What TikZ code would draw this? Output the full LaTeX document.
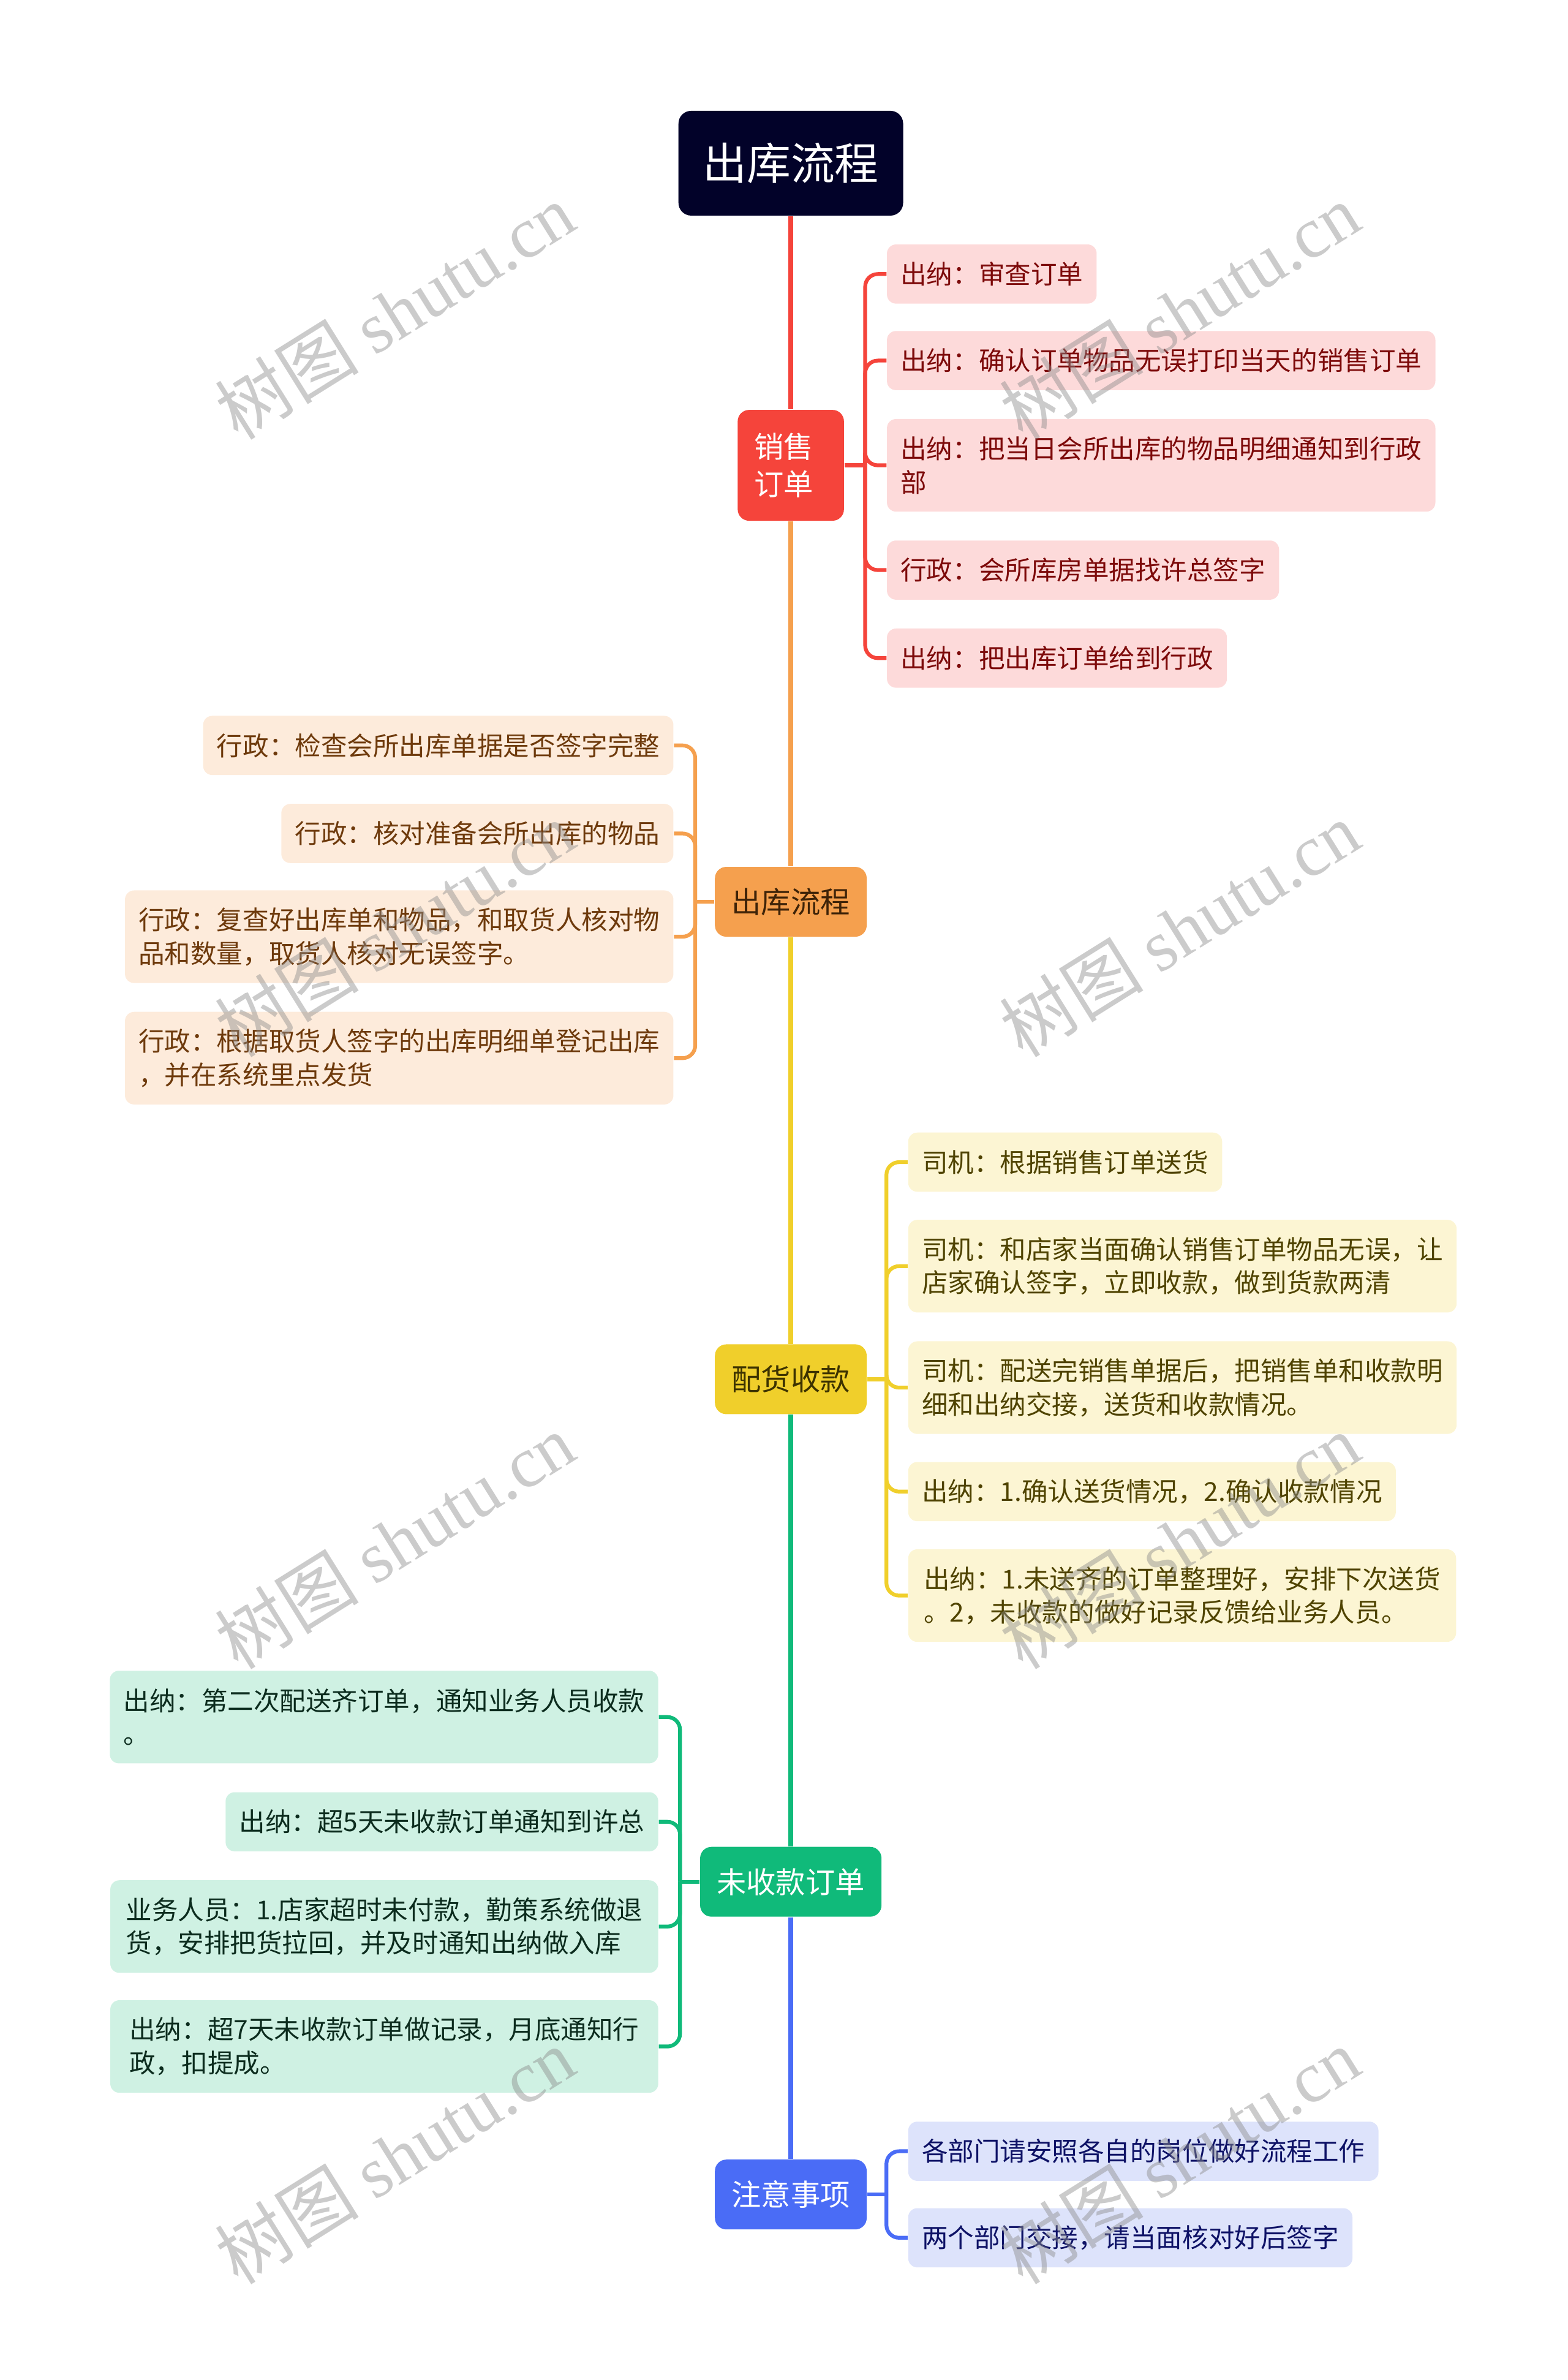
\documentclass[tikz,border=0pt]{standalone}
\usepackage{fontspec}
\setmainfont{Noto Sans CJK SC}
\newfontfamily\wmserif{Liberation Serif}
\definecolor{rootc}{HTML}{020229}
\definecolor{redc}{HTML}{F5443B}
\definecolor{orgc}{HTML}{F5A04E}
\definecolor{yelc}{HTML}{F0CF2B}
\definecolor{grnc}{HTML}{10BA7A}
\definecolor{bluc}{HTML}{4A6CF6}
\definecolor{redf}{HTML}{FDDADA}
\definecolor{orgf}{HTML}{FDEBDB}
\definecolor{yelf}{HTML}{FCF5D3}
\definecolor{grnf}{HTML}{CFF1E3}
\definecolor{bluf}{HTML}{DDE3FB}
\definecolor{redt}{HTML}{7D0A0A}
\definecolor{orgt}{HTML}{6E3A0C}
\definecolor{yelt}{HTML}{4F4300}
\definecolor{grnt}{HTML}{0C2C1E}
\definecolor{blut}{HTML}{0E1266}
\definecolor{orgl}{HTML}{3E2308}
\definecolor{yell}{HTML}{3D3300}
\tikzset{
  leaf/.style={rounded corners=3.6pt, inner xsep=5.4pt, inner ysep=2pt,
    minimum height=23.4pt, align=left, font=\fontsize{10.3pt}{13.2pt}\selectfont},
  tall/.style={minimum height=36.6pt},
  wide/.style={minimum width=216.6pt},
  lvl/.style={rounded corners=4.5pt, inner xsep=6.6pt, inner ysep=2pt,
    minimum height=27.6pt, font=\fontsize{11.7pt}{15pt}\selectfont},
  rootbox/.style={rounded corners=5pt, fill=rootc, text=white, minimum width=88.8pt,
    minimum height=41.4pt, font=\fontsize{17.4pt}{20pt}\selectfont},
  trunk/.style={line width=1.8pt},
  conn/.style={line width=1.5pt, rounded corners=5pt},
  wm/.style={rotate=32, text=black!45, text opacity=0.45, font=\fontsize{28.5pt}{32pt}\selectfont}
}
\begin{document}
\begin{tikzpicture}[x=0.6pt,y=-0.6pt]
\useasboundingbox (0,0) rectangle (1033,1567.7);
% root
\node[rootbox] (root) at (521,107.5) {出库流程};
% level 1
\node[lvl, fill=redc, text=white, text width=28.8pt, minimum height=43.8pt, align=left] (s1) at (521,306.5) {销售\\订单};
\node[lvl, fill=orgc, text=orgl] (s2) at (521,594) {出库流程};
\node[lvl, fill=yelc, text=yell] (s3) at (521,908.5) {配货收款};
\node[lvl, fill=grnc, text=white] (s4) at (521,1239.5) {未收款订单};
\node[lvl, fill=bluc, text=white] (s5) at (521,1445.5) {注意事项};
% trunk
\draw[trunk, redc] (root.south) -- (s1.north);
\draw[trunk, orgc] (s1.south) -- (s2.north);
\draw[trunk, yelc] (s2.south) -- (s3.north);
\draw[trunk, grnc] (s3.south) -- (s4.north);
\draw[trunk, bluc] (s4.south) -- (s5.north);
% branch 1
\node[leaf, fill=redf, text=redt, anchor=west] (a1) at (584,180.5) {出纳：审查订单};
\node[leaf, fill=redf, text=redt, anchor=west] (a2) at (584,237.5) {出纳：确认订单物品无误打印当天的销售订单};
\node[leaf, tall, wide, fill=redf, text=redt, anchor=west] (a3) at (584,306.5) {出纳：把当日会所出库的物品明细通知到行政\\部};
\node[leaf, fill=redf, text=redt, anchor=west] (a4) at (584,375.5) {行政：会所库房单据找许总签字};
\node[leaf, fill=redf, text=redt, anchor=west] (a5) at (584,433.5) {出纳：把出库订单给到行政};
\coordinate (j1) at (570,306.5);
\draw[conn, redc] (s1.east) -- (j1);
\foreach \c in {a1,a2,a3,a4,a5} \draw[conn, redc] (j1) |- (\c.west);
% branch 2
\node[leaf, fill=orgf, text=orgt, anchor=east] (b1) at (444,491) {行政：检查会所出库单据是否签字完整};
\node[leaf, fill=orgf, text=orgt, anchor=east] (b2) at (444,549) {行政：核对准备会所出库的物品};
\node[leaf, tall, wide, fill=orgf, text=orgt, anchor=east] (b3) at (444,617) {行政：复查好出库单和物品，和取货人核对物\\品和数量，取货人核对无误签字。};
\node[leaf, tall, wide, fill=orgf, text=orgt, anchor=east] (b4) at (444,697) {行政：根据取货人签字的出库明细单登记出库\\，并在系统里点发货};
\coordinate (j2) at (458,594);
\draw[conn, orgc] (s2.west) -- (j2);
\foreach \c in {b1,b2,b3,b4} \draw[conn, orgc] (j2) |- (\c.east);
% branch 3
\node[leaf, fill=yelf, text=yelt, anchor=west] (c1) at (598,765.5) {司机：根据销售订单送货};
\node[leaf, tall, wide, fill=yelf, text=yelt, anchor=west] (c2) at (598,834) {司机：和店家当面确认销售订单物品无误，让\\店家确认签字，立即收款，做到货款两清};
\node[leaf, tall, wide, fill=yelf, text=yelt, anchor=west] (c3) at (598,914) {司机：配送完销售单据后，把销售单和收款明\\细和出纳交接，送货和收款情况。};
\node[leaf, fill=yelf, text=yelt, anchor=west] (c4) at (598,982.5) {出纳：1.确认送货情况，2.确认收款情况};
\node[leaf, tall, wide, fill=yelf, text=yelt, anchor=west] (c5) at (598,1051) {出纳：1.未送齐的订单整理好，安排下次送货\\。2，未收款的做好记录反馈给业务人员。};
\coordinate (j3) at (584,908.5);
\draw[conn, yelc] (s3.east) -- (j3);
\foreach \c in {c1,c2,c3,c4,c5} \draw[conn, yelc] (j3) |- (\c.west);
% branch 4
\node[leaf, tall, wide, fill=grnf, text=grnt, anchor=east] (d1) at (434,1131) {出纳：第二次配送齐订单，通知业务人员收款\\。};
\node[leaf, fill=grnf, text=grnt, anchor=east] (d2) at (434,1200) {出纳：超5天未收款订单通知到许总};
\node[leaf, tall, wide, fill=grnf, text=grnt, anchor=east] (d3) at (434,1269) {业务人员：1.店家超时未付款，勤策系统做退\\货，安排把货拉回，并及时通知出纳做入库};
\node[leaf, tall, wide, fill=grnf, text=grnt, anchor=east] (d4) at (434,1348) {出纳：超7天未收款订单做记录，月底通知行\\政，扣提成。};
\coordinate (j4) at (448,1239.5);
\draw[conn, grnc] (s4.west) -- (j4);
\foreach \c in {d1,d2,d3,d4} \draw[conn, grnc] (j4) |- (\c.east);
% branch 5
\node[leaf, fill=bluf, text=blut, anchor=west] (e1) at (598,1417) {各部门请安照各自的岗位做好流程工作};
\node[leaf, fill=bluf, text=blut, anchor=west] (e2) at (598,1474) {两个部门交接，请当面核对好后签字};
\coordinate (j5) at (584,1445.5);
\draw[conn, bluc] (s5.east) -- (j5);
\foreach \c in {e1,e2} \draw[conn, bluc] (j5) |- (\c.west);
% watermarks
\foreach \wx/\wy [count=\i] in {260/205,777/205,260/612,777/612,260/1015,777/1015,260/1420,777/1420}
  \node[wm] (w\i) at (\wx,\wy) {树图 {\wmserif shutu.cn}};
\end{tikzpicture}
\end{document}
